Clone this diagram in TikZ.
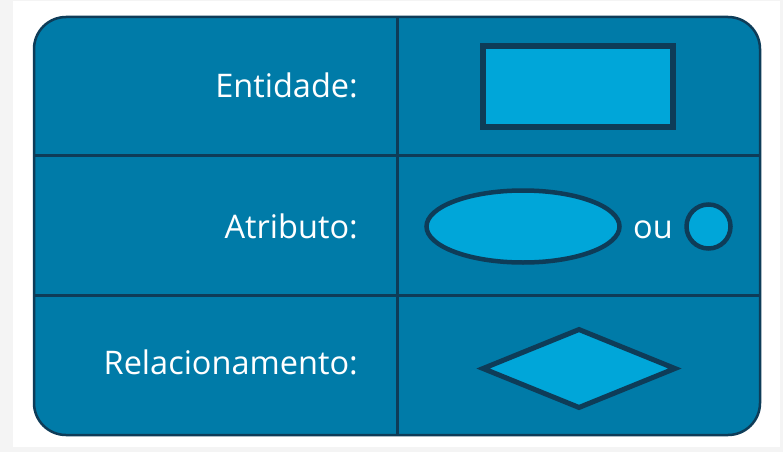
\documentclass[tikz,border=0pt]{standalone}
\usepackage{fontspec}
\setmainfont{Open Sans}
\definecolor{PageGray}{RGB}{244, 244, 244}
\definecolor{PanelBlue}{RGB}{0, 123, 168}
\definecolor{ShapeBlue}{RGB}{0, 166, 217}
\definecolor{Navy}{RGB}{14, 60, 88}
\usetikzlibrary{shapes.geometric}

\begin{document}
\begin{tikzpicture}[x=1pt, y=-1pt,
    label text/.style={text=white, font=\fontsize{32.5}{38}\selectfont, anchor=base east, inner sep=0pt},
    symbol/.style={draw=Navy, fill=ShapeBlue, inner sep=0pt}]
    % page
    \fill[PageGray] (0,0) rectangle (783,452);
    \fill[white] (13,1) rectangle (780,447);
    \useasboundingbox (0,0) rectangle (783,452);
    % panel and grid
    \draw[line width=2.5pt, draw=Navy, fill=PanelBlue, rounded corners=32pt] (34,17) rectangle (760,435);
    \draw[line width=3pt, Navy] (397,17) -- (397,435);
    \draw[line width=3pt, Navy] (34,155) -- (760,155);
    \draw[line width=3pt, Navy] (34,295) -- (760,295);
    % labels
    \node[label text] (lent) at (358,97) {Entidade:};
    \node[label text] (latr) at (358,238) {Atributo:};
    \node[label text] (lrel) at (358,374) {Relacionamento:};
    % symbols
    \node[symbol, rectangle, line width=5.5pt, minimum width=190pt, minimum height=81pt] (ent) at (578,86.5) {};
    \node[symbol, ellipse, line width=4.5pt, minimum width=193pt, minimum height=72pt] (atr) at (523,226.5) {};
    \node[text=white, font=\fontsize{32.5}{38}\selectfont, anchor=base, inner sep=0pt] (ou) at (653,238) {ou};
    \node[symbol, circle, line width=4.5pt, minimum size=44pt] (atr2) at (708.5,226.5) {};
    \node[symbol, diamond, line width=5pt, minimum width=194pt, minimum height=80pt] (rel) at (579,368.5) {};
\end{tikzpicture}
\end{document}
